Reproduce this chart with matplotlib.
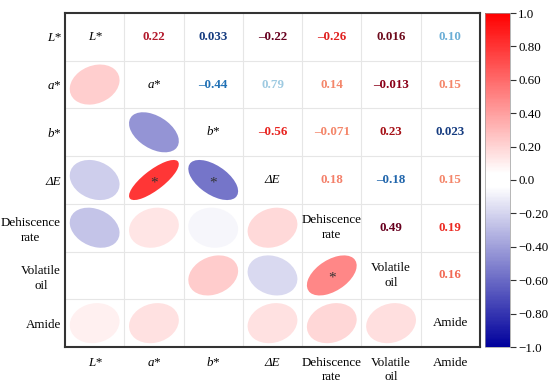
import numpy as np
import matplotlib.pyplot as plt
from matplotlib.patches import Ellipse
from matplotlib.colors import LinearSegmentedColormap, Normalize
from matplotlib.colorbar import ColorbarBase

plt.rcParams['font.family'] = ['Liberation Serif', 'DejaVu Serif']

# variable names (label, italic?)
names = ['L*', 'a*', 'b*', 'ΔE', 'Dehiscence\nrate', 'Volatile\noil', 'Amide']
italic = [True, True, True, True, False, False, False]

# upper triangle correlations, row by row
r_upper = [
    [0.22, 0.033, -0.22, -0.26, 0.016, 0.10],
    [-0.44, 0.79, 0.14, -0.013, 0.15],
    [-0.56, -0.071, 0.23, 0.023],
    [0.18, -0.18, 0.15],
    [0.49, 0.19],
    [0.16],
]
# text colours used for the numbers in the upper triangle
text_colors = [
    ['#b2182b', '#163c80', '#67001f', '#e0201e', '#6d0a1c', '#6baed6'],
    ['#2171b5', '#9ecae1', '#f4866a', '#8b0018', '#f4866a'],
    ['#e8231f', '#f4866a', '#a50f15', '#163c80'],
    ['#f4806a', '#2166ac', '#f4866a'],
    ['#67001f', '#ec2a22'],
    ['#f26a55'],
]
# significant pairs (row, col) in the lower triangle
stars = [(3, 1), (3, 2), (5, 4)]

n = len(names)
corr = np.eye(n)
for i, row in enumerate(r_upper):
    for k, v in enumerate(row):
        j = i + 1 + k
        corr[i, j] = v
        corr[j, i] = v

cmap = LinearSegmentedColormap.from_list(
    'bwr2', [(0.0, '#00009c'), (0.48, '#ffffff'), (0.52, '#ffffff'), (1.0, '#ff0000')])
norm = Normalize(-1, 1)

fs = 9.4

fig = plt.figure(figsize=(5.5, 3.84), dpi=100)
ax = fig.add_axes([65/550, 37/384, 415/550, 334/384])
cax = fig.add_axes([485/550, 37/384, 25/550, 334/384])

ax.set_xlim(0, n)
ax.set_ylim(0, n)
for k in range(1, n):
    ax.axvline(k, color='#e6e6e6', lw=0.8, zorder=0)
    ax.axhline(k, color='#e6e6e6', lw=0.8, zorder=0)

s = 0.42
for i in range(n):
    for j in range(n):
        cx = j + 0.5
        cy = n - i - 0.5
        if i == j:
            ax.text(cx, cy, names[i], ha='center', va='center', fontsize=fs,
                    style='italic' if italic[i] else 'normal', linespacing=1.3)
        elif j > i:
            v = corr[i, j]
            lab = f'{v:#.2g}'.replace('-', '\u2013')
            ax.text(cx, cy, lab, ha='center', va='center', fontsize=fs,
                    fontweight='bold', color=text_colors[i][j - i - 1])
        else:
            v = corr[i, j]
            w = 2 * s * np.sqrt(1 + abs(v))
            h = 2 * s * np.sqrt(1 - abs(v))
            ang = 45 if v > 0 else -45
            ax.add_patch(Ellipse((cx, cy), w, h, angle=ang,
                                 facecolor=cmap(norm(v)), edgecolor='none', zorder=2))
            if (i, j) in stars:
                ax.text(cx, cy - 0.06, '*', ha='center', va='center', fontsize=11,
                        color='#333333', zorder=3)

ax.set_xticks(np.arange(n) + 0.5)
ax.set_yticks(n - np.arange(n) - 0.5)
ax.set_xticklabels(names, fontsize=fs, linespacing=1.3)
ax.set_yticklabels(names, fontsize=fs, linespacing=1.3)
for lab, it in zip(ax.get_xticklabels(), italic):
    lab.set_style('italic' if it else 'normal')
    lab.set_verticalalignment('top')
for lab, it in zip(ax.get_yticklabels(), italic):
    lab.set_style('italic' if it else 'normal')
    lab.set_multialignment('center')
ax.tick_params(axis='y', length=0, pad=3)
ax.tick_params(axis='x', length=0, pad=7)
for sp in ax.spines.values():
    sp.set_color('#333333')
    sp.set_linewidth(1.5)

cb = ColorbarBase(cax, cmap=cmap, norm=norm, orientation='vertical')
ticks = [1.0, 0.8, 0.6, 0.4, 0.2, 0.0, -0.2, -0.4, -0.6, -0.8, -1.0]
tick_labels = ['1.0', '0.80', '0.60', '0.40', '0.20', '0.0',
               '\u22120.20', '\u22120.40', '\u22120.60', '\u22120.80', '\u22121.0']
cb.set_ticks(ticks)
cb.set_ticklabels(tick_labels)
cb.outline.set_linewidth(0.5)
cb.outline.set_edgecolor('#999999')
cax.tick_params(labelsize=fs, length=4, width=0.8, color='#333333', pad=2)

fig.savefig('out.png', dpi=100)
